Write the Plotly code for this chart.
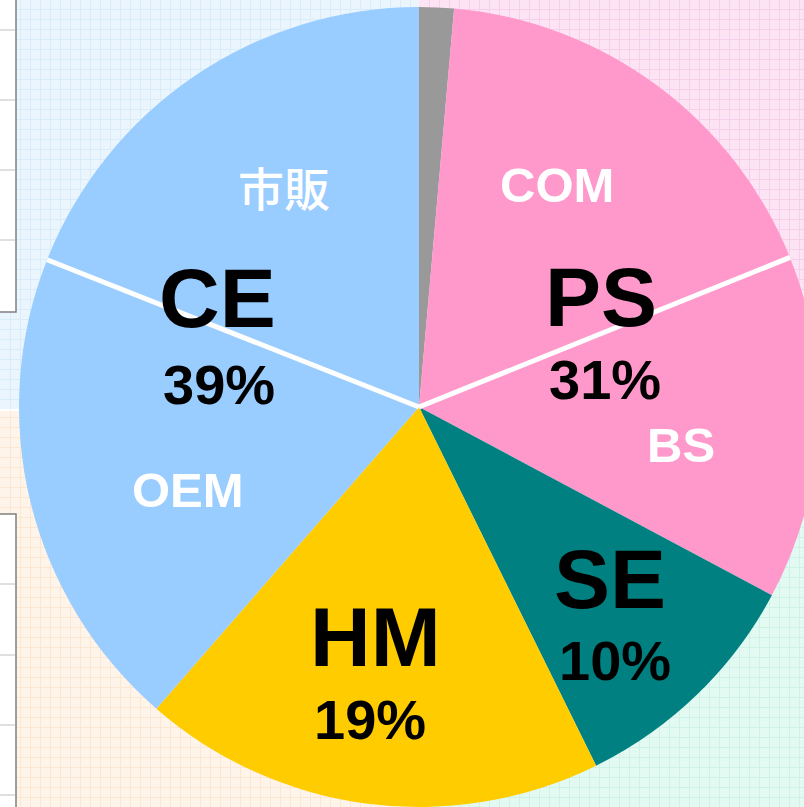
import math
import plotly.graph_objects as go

# ---------------- data ----------------
segments = ["その他", "COM", "BS", "SE", "HM", "OEM", "市販"]
values = [1.4, 17.5, 13.9, 9.9, 18.7, 19.6, 19.0]
seg_colors = ["#999999", "#FF99CC", "#FF99CC", "#008080", "#FFCC00", "#99CCFF", "#99CCFF"]

groups = ["CE", "PS", "SE", "HM"]
group_pcts = ["39%", "31%", "10%", "19%"]
sub_labels = ["市販", "COM", "BS", "OEM"]
# segment boundaries that get a white divider (after these segments)
divider_after = ["COM", "OEM"]

# ---------------- geometry ----------------
W, H = 839, 807
CX, CY, R = 419, 407, 400  # pie centre / radius in px


def px(x, y):
    return x / W, 1 - y / H


fig = go.Figure()

# background quadrants as four blank cartesian subplots (for the faint grid)
quads = [
    # (x0, x1, y0, y1) in px, bg, grid
    (0, 419, 0, 409, "#EBF5FD", "#D9ECF9"),
    (419, W, 0, 409, "#FCE4F4", "#F8CFEA"),
    (0, 419, 411, H, "#FFF4E9", "#FCE7D2"),
    (419, W, 411, H, "#E2FAF2", "#CCF3E5"),
]
for i, (x0, x1, y0, y1, bg, gc) in enumerate(quads):
    fig.add_shape(type="rect", xref="paper", yref="paper",
                  x0=x0 / W, x1=x1 / W, y0=1 - y1 / H, y1=1 - y0 / H,
                  fillcolor=bg, line_width=0, layer="below")
    n = "" if i == 0 else str(i + 1)
    fig.add_trace(go.Scatter(x=[None], y=[None], xaxis="x" + n, yaxis="y" + n,
                             showlegend=False, hoverinfo="skip"))
    ax = dict(range=[0, x1 - x0], dtick=10, tick0=0, showgrid=True, gridcolor=gc,
              gridwidth=1, zeroline=False, showticklabels=False, showline=False,
              ticks="", fixedrange=True, domain=[x0 / W, x1 / W])
    ay = dict(range=[0, y1 - y0], dtick=10, tick0=0, showgrid=True, gridcolor=gc,
              gridwidth=1, zeroline=False, showticklabels=False, showline=False,
              ticks="", fixedrange=True, domain=[1 - y1 / H, 1 - y0 / H])
    ax["anchor"] = "y" + n
    ay["anchor"] = "x" + n
    fig.update_layout(**{"xaxis" + n: ax, "yaxis" + n: ay})

# left-edge white tables
for (ty0, ty1, rows) in [(-5, 312, [30, 100, 170, 240]), (514, H + 5, [584, 655, 725, 795])]:
    fig.add_shape(type="rect", xref="paper", yref="paper",
                  x0=-0.01, x1=16 / W, y0=1 - ty1 / H, y1=1 - ty0 / H,
                  fillcolor="white", line=dict(color="#808080", width=1.5), layer="above")
    for ry in rows:
        fig.add_shape(type="line", xref="paper", yref="paper",
                      x0=0, x1=15 / W, y0=1 - ry / H, y1=1 - ry / H,
                      line=dict(color="#C0C0C0", width=1), layer="above")

# pie
fig.add_trace(go.Pie(
    labels=segments, values=values, sort=False, direction="clockwise", rotation=0,
    marker=dict(colors=seg_colors, line=dict(width=0)),
    textinfo="none", hoverinfo="label+percent", showlegend=False,
    domain=dict(x=[(CX - R) / W, (CX + R) / W], y=[1 - (CY + R) / H, 1 - (CY - R) / H]),
))

# white dividers computed from the cumulative values
total = sum(values)
cum = 0
for s, v in zip(segments, values):
    cum += v
    if s in divider_after:
        ang = cum / total * 2 * math.pi
        ex = CX + R * math.sin(ang)
        ey = CY - R * math.cos(ang)
        x0p, y0p = px(CX, CY)
        x1p, y1p = px(ex, ey)
        fig.add_shape(type="line", xref="paper", yref="paper",
                      x0=x0p, y0=y0p, x1=x1p, y1=y1p,
                      line=dict(color="white", width=5), layer="above")

FONT = "Liberation Sans, Arial, sans-serif"
group_pos = {"CE": (217, 298), "PS": (601, 297), "SE": (610, 579), "HM": (375, 637)}
pct_pos = {"CE": (219, 384), "PS": (605, 379), "SE": (615, 660), "HM": (370, 719)}
sub_pos = {"市販": (284, 186), "COM": (557, 185), "BS": (681, 445), "OEM": (188, 490)}

for g, p in zip(groups, group_pcts):
    x, y = px(*group_pos[g])
    fig.add_annotation(x=x, y=y, xref="paper", yref="paper", text=g, showarrow=False,
                       xanchor="center", yanchor="middle",
                       font=dict(family=FONT, size=84, color="black", weight="bold"))
    x, y = px(*pct_pos[g])
    fig.add_annotation(x=x, y=y, xref="paper", yref="paper", text=p, showarrow=False,
                       xanchor="center", yanchor="middle",
                       font=dict(family=FONT, size=56, color="black", weight="bold"))

for s in sub_labels:
    x, y = px(*sub_pos[s])
    cjk = any(ord(c) > 0x3000 for c in s)
    fig.add_annotation(x=x, y=y, xref="paper", yref="paper", text=s, showarrow=False,
                       xanchor="center", yanchor="middle",
                       font=dict(family="Noto Sans CJK JP" if cjk else FONT,
                                 size=46 if cjk else 49, color="white",
                                 weight=500 if cjk else "bold"))

fig.update_layout(width=W, height=H, margin=dict(l=0, r=0, t=0, b=0),
                  paper_bgcolor="white", plot_bgcolor="rgba(0,0,0,0)",
                  showlegend=False)

fig.write_html(
    "out.html",
    config={"displayModeBar": False},
    post_script=(
        "document.body.style.margin='0';"
        "document.body.style.overflow='hidden';"
        "document.documentElement.style.overflow='hidden';"
    ),
)
